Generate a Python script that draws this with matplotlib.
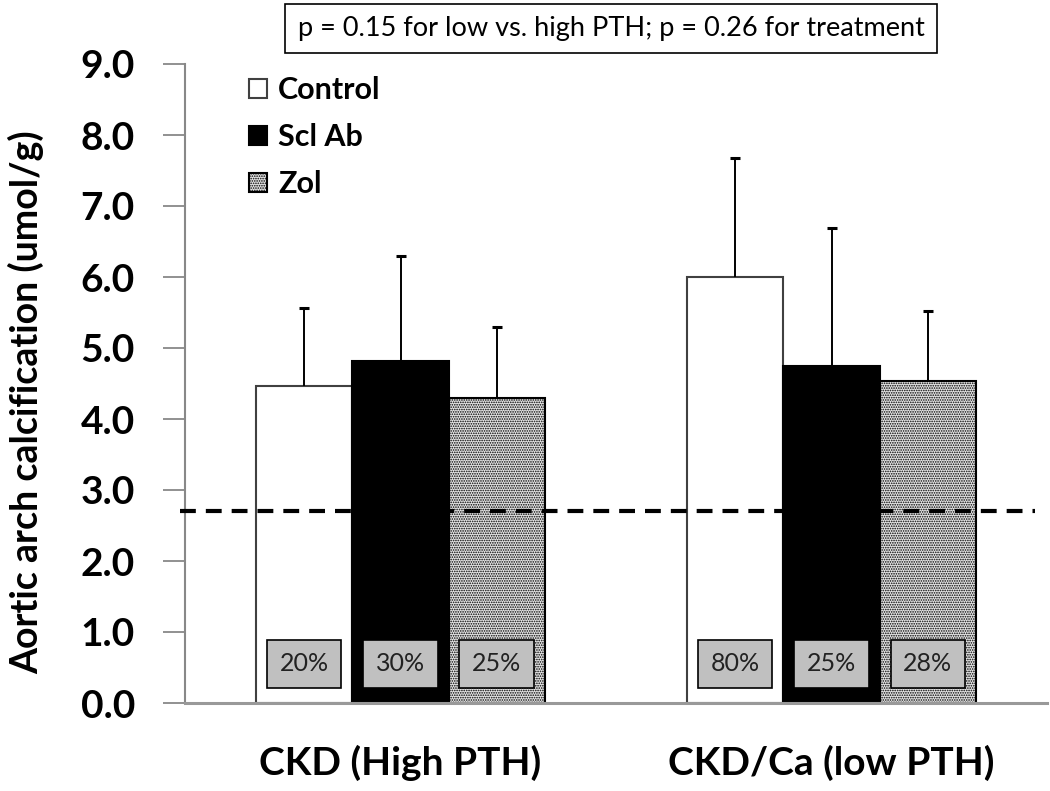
import matplotlib
matplotlib.use("Agg")
import matplotlib.pyplot as plt
import numpy as np

# ---- data ----
groups = ["CKD (High PTH)", "CKD/Ca (low PTH)"]
series = ["Control", "Scl Ab", "Zol"]
control_vals = [4.47, 6.00]
sclab_vals = [4.82, 4.75]
zol_vals = [4.30, 4.54]
control_err = [1.09, 1.67]
sclab_err = [1.48, 1.94]
zol_err = [1.00, 0.98]
pct_control = ["20%", "80%"]
pct_sclab = ["30%", "25%"]
pct_zol = ["25%", "28%"]
threshold = 2.7
yticks = [0, 1, 2, 3, 4, 5, 6, 7, 8, 9]
annotation = "p = 0.15 for low vs. high PTH; p = 0.26 for treatment"
ylabel = "Aortic arch calcification (umol/g)"

plt.rcParams['font.family'] = ['Lato', 'DejaVu Sans']
plt.rcParams['hatch.linewidth'] = 0.8

fig = plt.figure(figsize=(10.5, 7.91), dpi=100)
ax = fig.add_axes([185/1050, 1-703/791, 862/1050, 639/791])

x = np.arange(len(groups))
w = 0.223
vals = [control_vals, sclab_vals, zol_vals]
errs = [control_err, sclab_err, zol_err]
pcts = [pct_control, pct_sclab, pct_zol]
faces = ['white', 'black', '#e4e4e4']
edges = ['#404040', 'black', 'black']
hatches = [None, None, '.......']

handles = []
for i in range(3):
    pos = x + (i - 1) * w
    v = np.array(vals[i])
    e = np.array(errs[i])
    b = ax.bar(pos, v, width=w, color=faces[i], edgecolor=edges[i],
               linewidth=1.5, hatch=hatches[i], label=series[i], zorder=2)
    handles.append(b)
    ax.vlines(pos, v, v + e, color='black', lw=1.4, zorder=3)
    ax.plot(pos, v + e, ls='none', marker='_', markersize=7, mew=2.2,
            color='black', zorder=3)
    for p, t in zip(pos, pcts[i]):
        ax.text(p, 0.55, t, ha='center', va='center', fontsize=18, color='#222222',
                bbox=dict(boxstyle='square,pad=0.5', facecolor='#c0c0c0',
                          edgecolor='black', linewidth=1.2), zorder=5)

ax.axhline(threshold, xmin=-0.006, xmax=0.986, color='black', lw=3,
           linestyle=(0, (3.8, 2.4)), clip_on=False, zorder=4)

ax.set_xlim(-0.5, 1.5)
ax.set_ylim(0, 9)
ax.set_yticks(yticks)
ax.set_yticklabels([f"{v:.1f}" for v in yticks], fontsize=28, fontweight='bold')
ax.set_xticks(x)
ax.set_xticklabels(groups, fontsize=28, fontweight='bold')
ax.tick_params(axis='x', length=0, pad=30)
ax.tick_params(axis='y', direction='out', length=16, width=1.3, color='#888888', pad=20)

for s in ['top', 'right']:
    ax.spines[s].set_visible(False)
ax.spines['left'].set_color('#888888')
ax.spines['left'].set_linewidth(1.5)
ax.spines['bottom'].set_color('#999999')
ax.spines['bottom'].set_linewidth(2.2)

ax.set_ylabel(ylabel, fontsize=27, fontweight='bold')
ax.yaxis.set_label_coords(-0.163, 0.47)

leg = ax.legend(handles=handles, labels=series, loc='upper left',
                bbox_to_anchor=(0.06, 1.0), frameon=False,
                prop={'size': 22, 'weight': 'bold'}, handlelength=0.6,
                handleheight=0.6, handletextpad=0.35, labelspacing=0.62,
                borderaxespad=0)

fig.text(611/1050, 1-28.5/791, annotation, ha='center', va='center', fontsize=19.5,
         bbox=dict(boxstyle='square,pad=0.45', facecolor='white', edgecolor='black',
                   linewidth=1.2))

fig.savefig('out.png', dpi=100)
